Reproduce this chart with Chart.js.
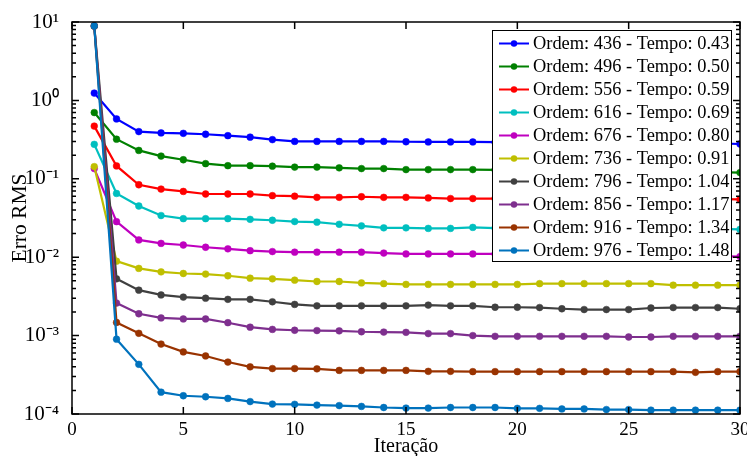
<!DOCTYPE html>
<html>
<head>
<meta charset="utf-8">
<script src="https://cdn.jsdelivr.net/npm/chart.js@4.4.1/dist/chart.umd.min.js"></script>
<style>
  body { margin: 0; background: #fff; }
  canvas { display: block; }
</style>
</head>
<body>
<canvas id="grafico_erro" width="747" height="456"></canvas>
<script>
// iterations on the x axis
var iteracoes = [1, 2, 3, 4, 5, 6, 7, 8, 9, 10, 11, 12, 13, 14, 15,
  16, 17, 18, 19, 20, 21, 22, 23, 24, 25, 26, 27, 28, 29, 30];

var ordens = [436, 496, 556, 616, 676, 736, 796, 856, 916, 976];
var tempos = ["0.43", "0.50", "0.59", "0.69", "0.80", "0.91", "1.04", "1.17", "1.34", "1.48"];

// RMS error per iteration, one array per order
var erro436 = [1.24, 0.58, 0.40, 0.385, 0.38, 0.37, 0.355, 0.34, 0.316, 0.30, 0.30, 0.30, 0.30, 0.30, 0.297,
  0.295, 0.295, 0.295, 0.293, 0.292, 0.29, 0.29, 0.289, 0.288, 0.287, 0.286, 0.285, 0.284, 0.283, 0.278];
var erro496 = [0.70, 0.32, 0.23, 0.195, 0.175, 0.156, 0.147, 0.147, 0.145, 0.141, 0.141, 0.138, 0.135, 0.135, 0.131,
  0.131, 0.131, 0.131, 0.130, 0.129, 0.128, 0.127, 0.126, 0.125, 0.125, 0.124, 0.123, 0.123, 0.122, 0.120];
var erro556 = [0.47, 0.146, 0.084, 0.074, 0.069, 0.064, 0.064, 0.064, 0.061, 0.060, 0.058, 0.058, 0.059, 0.058, 0.058,
  0.057, 0.056, 0.056, 0.056, 0.056, 0.056, 0.056, 0.056, 0.056, 0.055, 0.055, 0.055, 0.055, 0.055, 0.0547];
var erro616 = [0.275, 0.065, 0.045, 0.034, 0.031, 0.031, 0.031, 0.0304, 0.0296, 0.0285, 0.028, 0.0263, 0.0251, 0.0237, 0.0237,
  0.0233, 0.0233, 0.024, 0.0235, 0.024, 0.0235, 0.0235, 0.0233, 0.0233, 0.023, 0.023, 0.023, 0.023, 0.023, 0.0226];
var erro676 = [0.135, 0.0284, 0.0166, 0.015, 0.0143, 0.0134, 0.0128, 0.0121, 0.0118, 0.0116, 0.0116, 0.0116, 0.0116, 0.0113, 0.011,
  0.011, 0.011, 0.011, 0.011, 0.011, 0.0108, 0.0108, 0.0107, 0.0106, 0.0105, 0.0105, 0.0104, 0.0104, 0.0103, 0.0102];
var erro736 = [0.143, 0.0089, 0.0072, 0.0065, 0.0062, 0.0061, 0.0058, 0.0054, 0.0053, 0.0051, 0.0049, 0.0049, 0.0047, 0.0046, 0.0045,
  0.0045, 0.0045, 0.0045, 0.0045, 0.0045, 0.0046, 0.0046, 0.0046, 0.0046, 0.0046, 0.0046, 0.0044, 0.0044, 0.0044, 0.0044];
var erro796 = [8.9, 0.0053, 0.0038, 0.0033, 0.0031, 0.0030, 0.0029, 0.0029, 0.0027, 0.0025, 0.0024, 0.0024, 0.0024, 0.0024, 0.0024,
  0.00245, 0.0024, 0.0024, 0.0023, 0.0023, 0.00228, 0.0022, 0.00215, 0.00215, 0.00215, 0.00225, 0.00228, 0.00228, 0.00228, 0.0022];
var erro856 = [8.9, 0.0026, 0.0019, 0.00168, 0.00163, 0.00163, 0.00146, 0.00128, 0.0012, 0.00117, 0.00116, 0.00115, 0.00112, 0.00111, 0.0011,
  0.00106, 0.00106, 0.0010, 0.00098, 0.00098, 0.00098, 0.00098, 0.00098, 0.00098, 0.00096, 0.00096, 0.00098, 0.00098, 0.00098, 0.00098];
var erro916 = [8.9, 0.00147, 0.00107, 0.00078, 0.00062, 0.00055, 0.00046, 0.0004, 0.00038, 0.00038, 0.000377, 0.00036, 0.00036, 0.00036, 0.00036,
  0.00035, 0.00035, 0.000347, 0.000347, 0.000347, 0.000347, 0.000347, 0.000347, 0.000347, 0.000347, 0.000347, 0.000347, 0.00034, 0.000347, 0.000347];
var erro976 = [8.9, 0.0009, 0.00043, 0.00019, 0.000171, 0.000166, 0.000158, 0.000144, 0.000134, 0.000133, 0.00013, 0.000128, 0.000125, 0.000121, 0.000119,
  0.000119, 0.000121, 0.000121, 0.000121, 0.000118, 0.000118, 0.000116, 0.000116, 0.000114, 0.000114, 0.000112, 0.000112, 0.000112, 0.000112, 0.000112];

var expoentes = [-4, -3, -2, -1, 0, 1];

var series = [erro436, erro496, erro556, erro616, erro676, erro736, erro796, erro856, erro916, erro976];
var cores = ["#0000ff", "#008000", "#ff0000", "#00bfbf", "#bf00bf",
  "#bfbf00", "#404040", "#7e2f8e", "#993300", "#0072bd"];

var fonte = "'Liberation Serif', 'Times New Roman', serif";

function sobrescrito(n) {
  var mapa = { "-": "\u207b", "0": "\u2070", "1": "\u00b9", "2": "\u00b2", "3": "\u00b3", "4": "\u2074" };
  return String(n).split("").map(function (c) { return mapa[c]; }).join("");
}

// box with inward ticks on all four sides, like the original figure
var moldura = {
  id: "moldura",
  afterDatasetsDraw: function (chart) {
    var ctx = chart.ctx, a = chart.chartArea;
    var x = chart.scales.x, y = chart.scales.y;
    ctx.save();
    ctx.strokeStyle = "#000";
    ctx.lineWidth = 1.5;
    ctx.beginPath();
    x.ticks.forEach(function (t) {
      var px = x.getPixelForValue(t.value);
      ctx.moveTo(px, a.bottom); ctx.lineTo(px, a.bottom - 7);
      ctx.moveTo(px, a.top); ctx.lineTo(px, a.top + 7);
    });
    expoentes.forEach(function (e) {
      for (var m = 1; m <= 9; m++) {
        var v = m * Math.pow(10, e);
        if (v > y.max * 1.0001) break;
        var py = y.getPixelForValue(v);
        var len = m === 1 ? 7 : 4;
        ctx.moveTo(a.left, py); ctx.lineTo(a.left + len, py);
        ctx.moveTo(a.right, py); ctx.lineTo(a.right - len, py);
      }
    });
    ctx.stroke();
    ctx.strokeRect(a.left, a.top, a.right - a.left, a.bottom - a.top);
    ctx.restore();
  }
};

// legend drawn inside the plot, top right, with line + marker samples
var legendaCaixa = {
  id: "legendaCaixa",
  afterDraw: function (chart) {
    var ctx = chart.ctx, a = chart.chartArea;
    var larg = 239, alt = 231, linha = 23;
    var x0 = a.right - 9 - larg, y0 = a.top + 8;
    ctx.save();
    ctx.fillStyle = "#fff";
    ctx.fillRect(x0, y0, larg, alt);
    ctx.strokeStyle = "#000";
    ctx.lineWidth = 1;
    ctx.strokeRect(x0 + 0.5, y0 + 0.5, larg, alt);
    ctx.font = "18.4px " + fonte;
    ctx.textBaseline = "middle";
    chart.data.datasets.forEach(function (ds, i) {
      var yy = y0 + 13.5 + i * linha;
      ctx.strokeStyle = ds.borderColor;
      ctx.lineWidth = 2;
      ctx.beginPath();
      ctx.moveTo(x0 + 7, yy); ctx.lineTo(x0 + 37, yy);
      ctx.stroke();
      ctx.fillStyle = ds.borderColor;
      ctx.beginPath();
      ctx.arc(x0 + 22, yy, 3.2, 0, Math.PI * 2);
      ctx.fill();
      ctx.fillStyle = "#000";
      ctx.fillText(ds.label, x0 + 41, yy + 1);
    });
    ctx.restore();
  }
};

var ctx = document.getElementById("grafico_erro");
var myChart = new Chart(ctx, {
  type: "line",
  data: {
    datasets: series.map(function (valores, i) {
      return {
        label: "Ordem: " + ordens[i] + " - Tempo: " + tempos[i],
        data: valores.map(function (v, j) { return { x: iteracoes[j], y: v }; }),
        borderColor: cores[i],
        backgroundColor: cores[i],
        borderWidth: 2.2,
        pointRadius: 3.4,
        pointBorderWidth: 0.5,
        pointBackgroundColor: cores[i],
        tension: 0,
        fill: false,
        order: series.length - i
      };
    })
  },
  plugins: [moldura, legendaCaixa],
  options: {
    responsive: false,
    animation: false,
    layout: { padding: { top: 22, right: 7, left: 0, bottom: 0 } },
    plugins: {
      legend: { display: false },
      tooltip: { enabled: false }
    },
    scales: {
      x: {
        type: "linear",
        min: 0,
        max: 30,
        grid: { display: false },
        border: { display: false },
        ticks: {
          stepSize: 5,
          padding: -3,
          color: "#000",
          maxRotation: 0,
          font: { family: fonte, size: 19 }
        },
        title: {
          display: true,
          text: "Iteração",
          color: "#000",
          font: { family: fonte, size: 20, lineHeight: 1 },
          padding: { top: 0, bottom: -1 }
        },
        afterFit: function (s) { s.height = 42; s.paddingRight = 0; s.paddingLeft = 0; }
      },
      y: {
        type: "logarithmic",
        min: 1e-4,
        max: 10,
        grid: { display: false },
        border: { display: false },
        afterBuildTicks: function (s) {
          s.ticks = expoentes.map(function (e) { return { value: Math.pow(10, e) }; });
        },
        ticks: {
          padding: 5,
          color: "#000",
          font: { family: fonte, size: 21 },
          callback: function (v) {
            return "10" + sobrescrito(Math.round(Math.log10(v)));
          }
        },
        title: {
          display: true,
          text: "Erro RMS",
          color: "#000",
          font: { family: fonte, size: 21.5, lineHeight: 1 },
          padding: { top: 10, bottom: 0 }
        },
        afterFit: function (s) { s.width = 72; s.paddingTop = 0; s.paddingBottom = 0; }
      }
    }
  }
});
</script>
</body>
</html>
